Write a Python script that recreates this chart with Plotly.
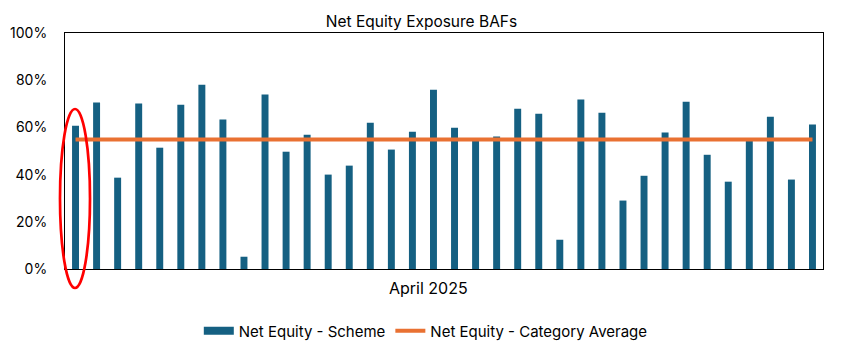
import plotly.graph_objects as go

schemes = [f"Scheme {i}" for i in range(1, 37)]
scheme_equity = [0.607, 0.705, 0.387, 0.701, 0.514, 0.696, 0.781, 0.633, 0.052, 0.739,
                 0.497, 0.569, 0.400, 0.438, 0.620, 0.506, 0.582, 0.760, 0.599, 0.545,
                 0.561, 0.679, 0.658, 0.124, 0.718, 0.662, 0.290, 0.395, 0.578, 0.709,
                 0.484, 0.370, 0.545, 0.645, 0.379, 0.612]
category_avg = [0.549] * len(schemes)
y_ticks = [0, 0.2, 0.4, 0.6, 0.8, 1.0]

FONT = "Inter, Liberation Sans, Arial, sans-serif"
BLUE = "#156082"
ORANGE = "#E97132"

fig = go.Figure()
fig.add_trace(go.Bar(x=schemes, y=scheme_equity, name="Net Equity - Scheme",
                     marker=dict(color=BLUE, line=dict(width=0)), showlegend=False,
                     legendgroup="scheme"))
# legend proxy to get a wide rectangular swatch like the original
fig.add_trace(go.Scatter(x=[None], y=[None], name="Net Equity - Scheme", mode="lines",
                         line=dict(color=BLUE, width=8), legendgroup="scheme"))
fig.add_trace(go.Scatter(x=schemes, y=category_avg, name="Net Equity - Category Average",
                         mode="lines", line=dict(color=ORANGE, width=4)))

fig.update_layout(
    width=843, height=353,
    margin=dict(l=65, r=20, t=33, b=84, autoexpand=False),
    paper_bgcolor="white", plot_bgcolor="white",
    bargap=0.67,
    font=dict(family=FONT, size=14, color="black"),
    title=dict(text="Net Equity Exposure BAFs", x=0.5, xanchor="center",
               y=1 - 22 / 353, yanchor="middle", font=dict(size=15.5, color="black")),
    showlegend=True,
    legend=dict(orientation="h", x=0.476, xanchor="center", yref="container",
                y=1 - 331 / 353, yanchor="middle", font=dict(size=15),
                traceorder="normal"),
    xaxis=dict(range=[-0.5, len(schemes) - 0.5], showticklabels=False, showgrid=False,
               showline=True, linecolor="black", linewidth=1, mirror=True, ticks="",
               zeroline=False, automargin=False),
    yaxis=dict(range=[0, 1], tickvals=y_ticks, tickformat=".0%", showgrid=False,
               showline=True, linecolor="black", linewidth=1, mirror=True,
               ticks="", ticklabelstandoff=14, zeroline=False, automargin=False,
               tickfont=dict(size=14)),
    annotations=[dict(text="April 2025", xref="paper", yref="paper", x=0.479, y=0,
                      yshift=-19, xanchor="center", yanchor="middle", showarrow=False,
                      font=dict(size=16, color="black"))],
    shapes=[dict(type="circle", xref="paper", yref="paper",
                 x0=-0.0066, x1=0.033, y0=-0.0805, y1=0.678,
                 line=dict(color="#FF0000", width=2.7), layer="above")],
)

fig.write_html("out.html")
